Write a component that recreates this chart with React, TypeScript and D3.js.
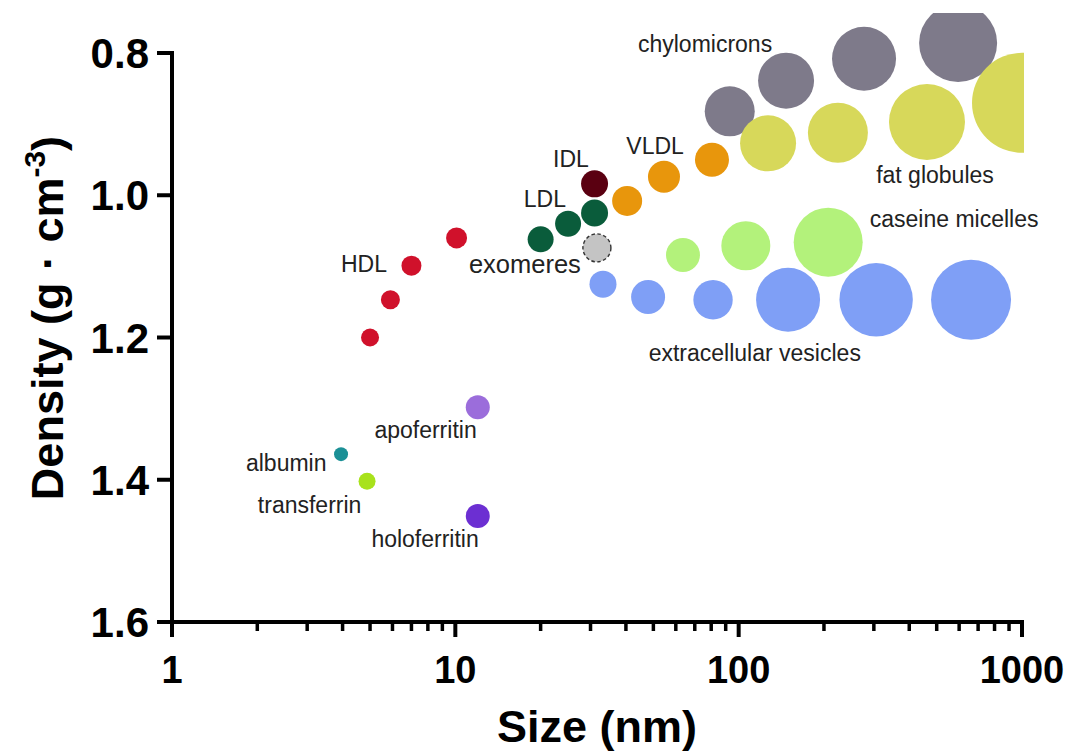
import React from "react";
import * as d3 from "d3";

// ---- data ----
const groupNames = ["HDL", "LDL", "IDL", "exomeres", "VLDL", "chylomicrons", "fat globules", "caseine micelles", "extracellular vesicles", "albumin", "transferrin", "apoferritin", "holoferritin"];
const groupColors = ["#d0112b", "#0a5c3b", "#5a0011", "#c4c4c4", "#e8960c", "#7e7a8a", "#d7d85a", "#b3f27b", "#7f9ff6", "#1b9096", "#a8e21b", "#9b6ddb", "#6c2fd2"];

const hdlSize = [5.0, 5.9, 7.0, 10.1];
const hdlDensity = [1.2, 1.147, 1.099, 1.06];
const hdlBubble = [9, 9.5, 10, 10.5];

const ldlSize = [20, 25, 31];
const ldlDensity = [1.062, 1.04, 1.025];
const ldlBubble = [13, 13, 13.5];

const idlSize = [31];
const idlDensity = [0.984];
const idlBubble = [13.5];

const exomereSize = [31.6];
const exomereDensity = [1.074];
const exomereBubble = [14];

const vldlSize = [40.4, 54.5, 80.5];
const vldlDensity = [1.008, 0.974, 0.95];
const vldlBubble = [15, 16, 17];

const chyloSize = [93, 147, 277, 595];
const chyloDensity = [0.882, 0.839, 0.808, 0.786];
const chyloBubble = [25, 28, 32, 39];

const fatSize = [127, 224, 462, 1000];
const fatDensity = [0.927, 0.912, 0.897, 0.87];
const fatBubble = [28, 30, 38, 50];

const caseinSize = [63.6, 106, 207];
const caseinDensity = [1.084, 1.071, 1.066];
const caseinBubble = [17, 24.5, 34.5];

const evSize = [33.2, 47.9, 81.2, 149.4, 305.6, 661];
const evDensity = [1.125, 1.143, 1.147, 1.147, 1.147, 1.147];
const evBubble = [13.5, 17, 19.7, 32, 36.7, 40];

const albuminSize = [3.95];
const albuminDensity = [1.364];
const albuminBubble = [7];

const transferrinSize = [4.88];
const transferrinDensity = [1.402];
const transferrinBubble = [8.5];

const apoSize = [12];
const apoDensity = [1.298];
const apoBubble = [12];

const holoSize = [12];
const holoDensity = [1.451];
const holoBubble = [12];

// label anchors (data space)
const labelSize = [4.76, 20.7, 25.6, 17.6, 50.7, 76.1, 493, 576, 114, 2.53, 3.06, 7.85, 7.82];
const labelDensity = [1.108, 1.0165, 0.96, 1.109, 0.942, 0.799, 0.983, 1.045, 1.233, 1.388, 1.447, 1.341, 1.495];

const xTickValues = [1, 10, 100, 1000];
const xTickLabels = ["1", "10", "100", "1000"];
const yTickValues = [0.8, 1.0, 1.2, 1.4, 1.6];
const yTickLabels = ["0.8", "1.0", "1.2", "1.4", "1.6"];

const seriesSizes = [hdlSize, ldlSize, idlSize, exomereSize, vldlSize, chyloSize, fatSize, caseinSize, evSize, albuminSize, transferrinSize, apoSize, holoSize];
const seriesDensities = [hdlDensity, ldlDensity, idlDensity, exomereDensity, vldlDensity, chyloDensity, fatDensity, caseinDensity, evDensity, albuminDensity, transferrinDensity, apoDensity, holoDensity];
const seriesBubbles = [hdlBubble, ldlBubble, idlBubble, exomereBubble, vldlBubble, chyloBubble, fatBubble, caseinBubble, evBubble, albuminBubble, transferrinBubble, apoBubble, holoBubble];

// draw order (back to front)
const drawOrder = [5, 6, 7, 8, 4, 0, 1, 2, 3, 9, 10, 11, 12];

export default function App() {
  const W = 1072, H = 754;
  const x = d3.scaleLog().domain([1, 1000]).range([172, 1022]);
  const y = d3.scaleLinear().domain([0.8, 1.6]).range([53, 622]);
  const r = d3.scaleLinear().domain([0, 1]).range([0, 1]);
  const font = "'Liberation Sans', Arial, Helvetica, sans-serif";
  const axisW = 4;
  const x0 = x(1), y1 = y(1.6);

  const minor: number[] = [];
  [1, 10, 100].forEach((d) => {
    for (let k = 2; k <= 9; k++) minor.push(d * k);
  });

  return (
    <svg width={W} height={H} style={{ position: "absolute", left: 0, top: 0, background: "#fff" }} fontFamily={font}>
      <defs>
        <clipPath id="plotclip">
          <rect x={0} y={13} width={x(1000) + 2} height={y1 - 13} />
        </clipPath>
      </defs>
      <rect x={0} y={0} width={W} height={H} fill="#fff" />
      <g clipPath="url(#plotclip)">
        {drawOrder.map((gi) =>
          seriesSizes[gi].map((s, i) => (
            <circle
              key={gi + "-" + i}
              cx={x(s)}
              cy={y(seriesDensities[gi][i])}
              r={r(seriesBubbles[gi][i])}
              fill={groupColors[gi]}
              stroke={gi === 3 ? "#333" : "none"}
              strokeWidth={gi === 3 ? 1.4 : 0}
              strokeDasharray={gi === 3 ? "3.5 2.5" : undefined}
            />
          ))
        )}
      </g>
      {groupNames.map((n, i) => (
        <text
          key={n}
          x={x(labelSize[i])}
          y={y(labelDensity[i])}
          textAnchor="middle"
          fontSize={i === 3 ? 25.5 : 23}
          fill="#222"
        >
          {n}
        </text>
      ))}
      {/* axes */}
      <g stroke="#000" strokeLinecap="butt">
        <line x1={x0} x2={x0} y1={y(0.8) - axisW / 2} y2={y1 + 15} strokeWidth={axisW} />
        <line x1={x0 - 15} x2={x(1000) + axisW / 2} y1={y1} y2={y1} strokeWidth={axisW} />
        {yTickValues.map((v) => (
          <line key={"yt" + v} x1={x0 - 15} x2={x0} y1={y(v)} y2={y(v)} strokeWidth={axisW} />
        ))}
        {xTickValues.map((v) => (
          <line key={"xt" + v} x1={x(v)} x2={x(v)} y1={y1} y2={y1 + 15} strokeWidth={axisW} />
        ))}
        {minor.map((v) => (
          <line key={"xm" + v} x1={x(v)} x2={x(v)} y1={y1} y2={y1 + 9} strokeWidth={3.5} />
        ))}
      </g>
      {yTickValues.map((v, i) => (
        <text key={"yl" + v} x={149} y={y(v)} dy="0.36em" textAnchor="end" fontSize={42} fontWeight="bold" fill="#000">
          {yTickLabels[i]}
        </text>
      ))}
      {xTickValues.map((v, i) => (
        <text key={"xl" + v} x={x(v)} y={683} textAnchor="middle" fontSize={38} fontWeight="bold" fill="#000">
          {xTickLabels[i]}
        </text>
      ))}
      <text x={597} y={742} textAnchor="middle" fontSize={45} fontWeight="bold" fill="#000">
        Size (nm)
      </text>
      <text transform="translate(63,318) rotate(-90)" textAnchor="middle" fontSize={45} fontWeight="bold" fill="#000">
        Density (g · cm<tspan dy="-18" fontSize={30}>-3</tspan><tspan dy="18">)</tspan>
      </text>
    </svg>
  );
}
